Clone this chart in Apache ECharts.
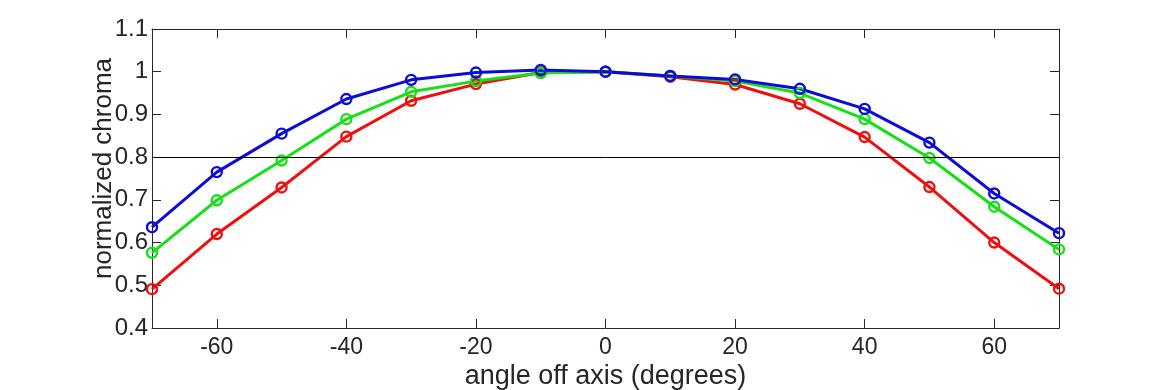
<!DOCTYPE html>
<html><head><meta charset="utf-8">
<script src="https://cdn.jsdelivr.net/npm/echarts@6/dist/echarts.min.js"></script>
<style>html,body{margin:0;padding:0;background:#fff}#c{width:1170px;height:390px}</style>
</head><body><div id="c"></div>
<script>
const angles = [-70,-60,-50,-40,-30,-20,-10,0,10,20,30,40,50,60,70];
const redValues   = [0.491,0.620,0.729,0.848,0.932,0.971,0.998,1.0,0.988,0.970,0.925,0.847,0.730,0.600,0.492];
const greenValues = [0.576,0.699,0.792,0.889,0.953,0.978,0.997,1.0,0.990,0.978,0.950,0.889,0.798,0.684,0.584];
const blueValues  = [0.636,0.765,0.855,0.936,0.981,0.998,1.004,1.0,0.990,0.982,0.960,0.913,0.834,0.715,0.622];
const xTicks = [-60,-40,-20,0,20,40,60];
const yTicks = [0.4,0.5,0.6,0.7,0.8,0.9,1.0,1.1];
const threshold = 0.8;

const font = 'Liberation Sans, Arial, sans-serif';
const axisColor = '#262626';
function pairs(v){ return angles.map((a,i)=>[a,v[i]]); }
function series(name, color, vals, extra){
  return Object.assign({
    name, type:'line', data: pairs(vals),
    symbol:'circle', symbolSize:10, showSymbol:true,
    lineStyle:{color, width:3},
    itemStyle:{color:'rgba(255,255,255,0)', borderColor:color, borderWidth:2.4},
    emphasis:{disabled:true}, z:3
  }, extra||{});
}
const chart = echarts.init(document.getElementById('c'), null, {renderer:'canvas'});
const xBase = {
  type:'value', min:-70, max:70,
  axisLine:{show:true, onZero:false, lineStyle:{color:axisColor, width:1}},
  splitLine:{show:false}
};
const yBase = {
  type:'value', min:0.4, max:1.1,
  axisLine:{show:true, onZero:false, lineStyle:{color:axisColor, width:1}},
  splitLine:{show:false}
};
chart.setOption({
  animation:false,
  backgroundColor:'#ffffff',
  grid:{left:152, right:111, top:29, bottom:62, containLabel:false, outerBoundsMode:'none'},
  xAxis:[
    Object.assign({}, xBase, {
      position:'bottom',
      name:'angle off axis (degrees)', nameLocation:'middle', nameGap:35, nameMoveOverlap:false,
      nameTextStyle:{fontFamily:font, fontSize:27, color:axisColor},
      axisTick:{show:true, inside:true, length:9, customValues:xTicks, lineStyle:{color:axisColor}},
      axisLabel:{show:true, customValues:xTicks, margin:8, fontFamily:font, fontSize:23, color:axisColor, formatter:v=>String(v)}
    }),
    Object.assign({}, xBase, {
      position:'top',
      axisTick:{show:true, inside:true, length:9, customValues:xTicks, lineStyle:{color:axisColor}},
      axisLabel:{show:false}
    })
  ],
  yAxis:[
    Object.assign({}, yBase, {
      position:'left',
      name:'normalized chroma', nameLocation:'middle', nameGap:35, nameMoveOverlap:false,
      nameTextStyle:{fontFamily:font, fontSize:26, color:axisColor, padding:[0,0,0,20]},
      axisTick:{show:true, inside:true, length:9, customValues:yTicks, lineStyle:{color:axisColor}},
      axisLabel:{show:true, customValues:yTicks, margin:4, fontFamily:font, fontSize:24, color:axisColor,
        formatter:v=>{ const r=Math.round(v*10)/10; return r===1?'1':r.toFixed(1); }}
    }),
    Object.assign({}, yBase, {
      position:'right',
      axisTick:{show:true, inside:true, length:9, customValues:yTicks, lineStyle:{color:axisColor}},
      axisLabel:{show:false}
    })
  ],
  series:[
    series('red','#ee0f0f',redValues,{
      markLine:{silent:true, symbol:['none','none'], label:{show:false},
        lineStyle:{color:'#000000', width:1, type:'solid'},
        data:[{yAxis:threshold}]}
    }),
    series('green','#18e018',greenValues),
    series('blue','#0c0cd6',blueValues)
  ]
});
</script>
</body></html>
